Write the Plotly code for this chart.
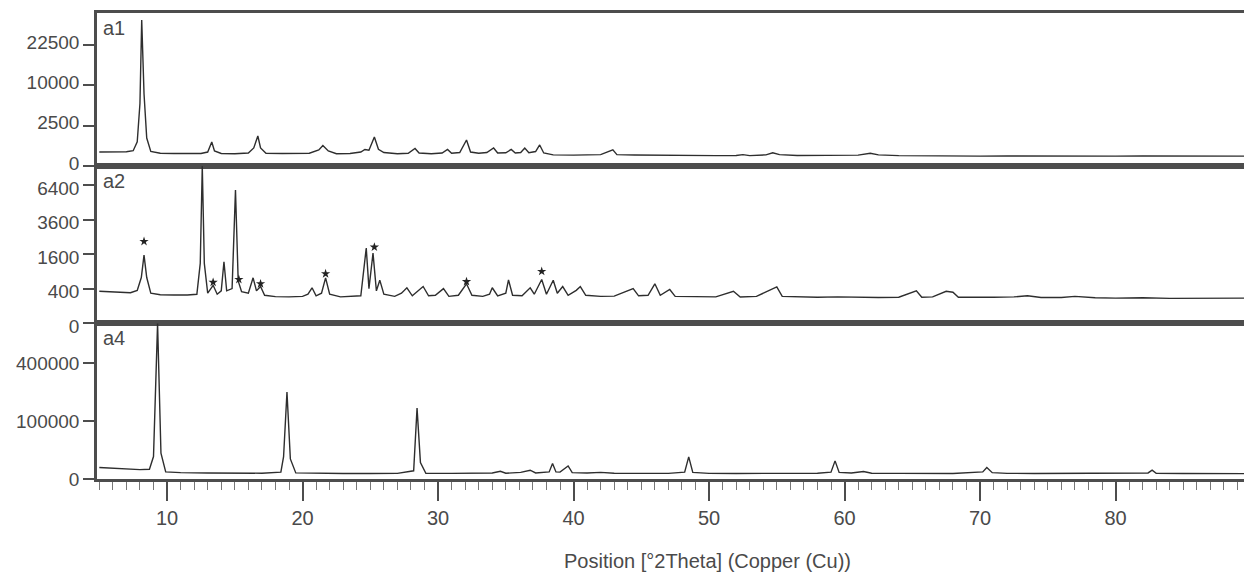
import numpy as np
import plotly.graph_objects as go
from plotly.subplots import make_subplots

# ---------------- data ----------------
a1_x = [5.0, 6.0, 7.0, 7.5, 7.8, 8.0, 8.13, 8.3, 8.5, 8.8, 9.5, 10.5, 11.5, 12.5, 13.0, 13.3, 13.5, 14.0,
        15.0, 16.0, 16.4, 16.7, 16.9, 17.3, 18.5, 19.5, 20.5, 21.2, 21.5, 21.9, 22.5, 23.5, 24.3, 24.6,
        24.9, 25.3, 25.6, 26.0, 27.0, 27.8, 28.3, 28.6, 29.5, 30.3, 30.7, 31.0, 31.6, 32.1, 32.4, 33.0,
        33.6, 34.1, 34.4, 35.0, 35.4, 35.7, 36.1, 36.4, 36.7, 37.2, 37.5, 37.8, 38.5, 40.0, 41.0, 42.0,
        42.9, 43.2, 44.5, 46.0, 47.5, 49.0, 50.5, 52.0, 52.5, 53.0, 54.2, 54.7, 55.2, 56.5, 58.0, 59.5,
        61.0, 61.9, 62.5, 64.0, 66.0, 68.0, 70.0, 72.0, 74.0, 76.0, 78.0, 80.0, 82.0, 84.0, 86.0, 88.0, 89.6]
a1_i = [300, 295, 310, 360, 900, 6000, 32700, 8000, 1200, 330, 250, 240, 250, 240, 300, 880, 350, 240,
        230, 260, 500, 1380, 500, 250, 240, 235, 250, 400, 650, 350, 230, 240, 300, 420,
        380, 1290, 430, 280, 230, 250, 470, 260, 230, 260, 420, 250, 280, 1040, 300, 250,
        280, 500, 260, 270, 420, 260, 280, 500, 270, 320, 680, 260, 190, 180, 190, 200,
        400, 200, 185, 175, 170, 175, 165, 170, 200, 165, 190, 270, 200, 170, 180, 170,
        180, 250, 190, 165, 155, 160, 150, 155, 150, 155, 150, 150, 155, 150, 150, 148, 150]

a2_x = [5.0, 5.8, 6.5, 7.3, 7.8, 8.1, 8.3, 8.5, 8.8, 9.5, 10.5, 11.5, 12.2, 12.45, 12.6, 12.75, 13.0,
        13.4, 13.7, 14.0, 14.2, 14.4, 14.8, 15.05, 15.25, 15.5, 16.0, 16.35, 16.6, 16.9, 17.2, 18.0,
        19.0, 20.0, 20.4, 20.7, 21.0, 21.4, 21.7, 22.0, 22.8, 23.5, 24.3, 24.7, 24.9, 25.2, 25.45,
        25.7, 26.0, 26.8, 27.3, 27.7, 28.1, 28.9, 29.3, 29.8, 30.4, 30.8, 31.5, 32.1, 32.5, 33.3,
        33.8, 34.0, 34.4, 35.0, 35.2, 35.5, 36.2, 36.8, 37.1, 37.65, 38.0, 38.5, 38.8, 39.2, 39.6,
        40.2, 40.5, 40.9, 42.0, 43.0, 44.4, 44.8, 45.5, 46.0, 46.4, 47.1, 47.5, 49.0, 50.5, 51.8,
        52.3, 53.5, 55.0, 55.4, 56.5, 58.0, 59.5, 61.0, 62.5, 64.0, 65.3, 65.7, 66.5, 67.5, 68.0,
        68.4, 69.5, 71.0, 72.5, 73.5, 74.5, 76.0, 77.0, 78.5, 80.0, 82.0, 84.0, 86.0, 88.0, 89.6]
a2_i = [340, 330, 320, 310, 360, 700, 1560, 700, 300, 270, 265, 265, 280, 1200, 8300, 1200, 300,
        480, 280, 350, 1270, 350, 400, 5980, 600, 330, 300, 690, 350, 450, 260, 235,
        230, 240, 280, 420, 250, 300, 690, 280, 230, 240, 250, 1900, 400, 1650, 350,
        620, 280, 240, 300, 420, 250, 450, 250, 260, 400, 240, 260, 520, 260, 240,
        280, 420, 250, 300, 630, 260, 250, 420, 280, 640, 280, 620, 300, 450, 260,
        360, 450, 260, 240, 245, 400, 250, 260, 520, 260, 380, 240, 235, 230, 340,
        230, 240, 440, 240, 230, 225, 230, 220, 220, 225, 350, 225, 230, 340, 320,
        225, 220, 225, 230, 250, 220, 220, 240, 215, 210, 215, 205, 210, 205, 210]

a2_star_x = [8.3, 13.4, 15.3, 16.9, 21.7, 25.3, 32.1, 37.65]
a2_star_i = [2250, 560, 640, 520, 820, 1950, 580, 900]

a4_x = [5.0, 6.0, 7.0, 8.0, 8.7, 9.0, 9.3, 9.55, 9.9, 11.0, 13.0, 15.0, 17.0, 18.4, 18.6, 18.85, 19.1,
        19.5, 21.0, 23.0, 25.0, 27.0, 28.2, 28.45, 28.7, 29.1, 31.0, 32.5, 34.0, 34.6, 35.0, 36.1,
        36.8, 37.2, 38.2, 38.45, 38.7, 39.0, 39.6, 39.9, 41.0, 42.0, 43.0, 45.0, 47.0, 48.2, 48.5,
        48.8, 50.0, 52.0, 54.0, 56.0, 58.0, 59.0, 59.3, 59.6, 60.5, 61.4, 62.0, 64.0, 66.0, 68.0,
        70.2, 70.5, 70.9, 72.0, 74.0, 76.0, 78.0, 80.0, 82.4, 82.7, 83.0, 85.0, 87.0, 89.6]
a4_i = [3900, 3500, 3000, 2600, 2800, 15000, 720000, 20000, 1500, 1200, 1100, 1050, 1000, 1400, 15000,
        225000, 12000, 1100, 950, 900, 900, 950, 2000, 150000, 8000, 1000, 950, 1000, 1100, 1800,
        1000, 1300, 2300, 1100, 1500, 7100, 1500, 1400, 5100, 1200, 1100, 1300, 1000, 950, 950,
        1400, 14600, 1300, 950, 900, 900, 950, 1000, 1400, 9800, 1300, 1100, 1700, 1000, 950, 900,
        900, 1500, 3900, 1200, 950, 900, 900, 880, 900, 1100, 2300, 1000, 880, 870, 860]

a1_ticks = [0, 2500, 10000, 22500]
a2_ticks = [0, 400, 1600, 3600, 6400]
a4_ticks = [0, 100000, 400000]
x_ticks = [10, 20, 30, 40, 50, 60, 70, 80]
panel_names = ["a1", "a2", "a4"]
x_title = "Position [°2Theta] (Copper (Cu))"

# ---------------- figure ----------------
W, H = 1244, 573
ML, MR, MT, MB = 97, 0, 13, 94
FONT = "Liberation Sans, Arial, sans-serif"
LINE = "#4d4d4d"
TRACE = "#2e2e2e"
TXT = "#4a4a4a"

fig = make_subplots(rows=3, cols=1, shared_xaxes=True, vertical_spacing=0,
                    row_heights=[153, 157, 156])

series = [(a1_x, a1_i), (a2_x, a2_i), (a4_x, a4_i)]
for r, (xs, ys) in enumerate(series, start=1):
    fig.add_trace(go.Scatter(x=xs, y=np.sqrt(np.array(ys, dtype=float)), mode="lines",
                             line=dict(color=TRACE, width=1.4), showlegend=False,
                             hoverinfo="skip"), row=r, col=1)

fig.add_trace(go.Scatter(x=a2_star_x, y=np.sqrt(np.array(a2_star_i, dtype=float)), mode="markers",
                         marker=dict(symbol="star", size=7, color="#222"), showlegend=False,
                         hoverinfo="skip"), row=2, col=1)

xr = [4.83, 89.48]
for r in (1, 2, 3):
    common = dict(range=xr, showline=True, linecolor=LINE, linewidth=2.5, mirror=True,
                  showgrid=False, zeroline=False, row=r, col=1)
    if r < 3:
        fig.update_xaxes(ticks="", showticklabels=False, **common)
    else:
        fig.update_xaxes(ticks="outside", ticklen=19, tickwidth=1.5, tickcolor=LINE,
                         tickmode="array", tickvals=x_ticks, ticktext=[str(v) for v in x_ticks],
                         tickfont=dict(family=FONT, size=20, color=TXT),
                         minor=dict(ticks="outside", ticklen=8, dtick=1, tick0=0,
                                    tickwidth=1.2, tickcolor="#777"),
                         **common)

yranges = [[0, 189.6], [0, 91.3], [0, 852]]
yticks = [a1_ticks, a2_ticks, a4_ticks]
yshift = [-3, 3, 0]
for r in (1, 2, 3):
    fig.update_yaxes(range=yranges[r - 1], tickmode="array",
                     tickvals=list(np.sqrt(np.array(yticks[r - 1], dtype=float))),
                     ticktext=[str(v) for v in yticks[r - 1]],
                     ticks="outside", ticklen=11, tickwidth=1.5, tickcolor=LINE,
                     tickfont=dict(family=FONT, size=19, color=TXT),
                     ticklabelshift=yshift[r - 1],
                     showline=True, linecolor=LINE, linewidth=2.5, mirror=False,
                     showgrid=False, zeroline=False, row=r, col=1)

# panel labels
for r, name in enumerate(panel_names, start=1):
    yax = fig.layout["yaxis" if r == 1 else f"yaxis{r}"]
    fig.add_annotation(text=name, xref="paper", yref="paper", x=0, y=yax.domain[1],
                       xanchor="left", yanchor="top", xshift=4, yshift=-2, showarrow=False,
                       font=dict(family=FONT, size=20, color=TXT))

# x-axis title
fig.add_annotation(text=x_title, xref="paper", yref="paper",
                   x=(707 - ML) / (W - ML - MR), y=0, yshift=-82,
                   xanchor="center", yanchor="middle", showarrow=False,
                   font=dict(family=FONT, size=20, color=TXT))

fig.update_layout(width=W, height=H, margin=dict(l=ML, r=MR, t=MT, b=MB),
                  paper_bgcolor="white", plot_bgcolor="white")

fig.write_html("out.html")
